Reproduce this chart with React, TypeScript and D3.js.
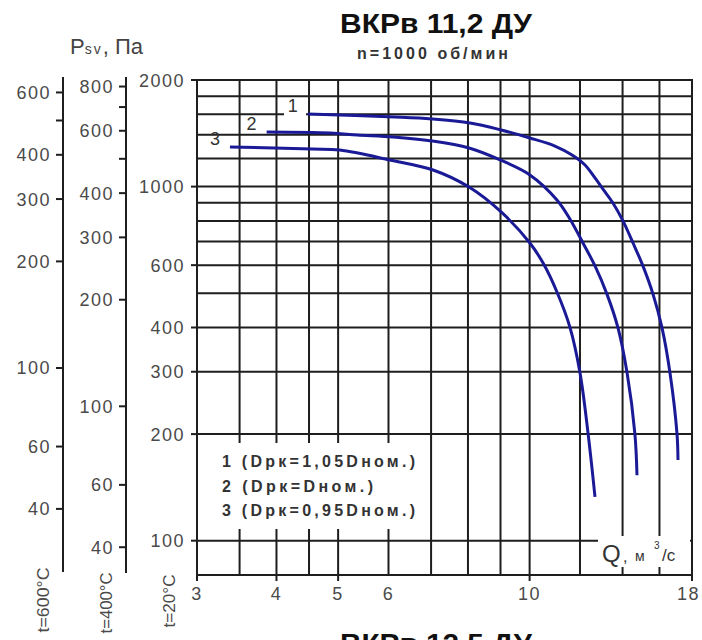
import React from "react";
import * as d3 from "d3";

// X axis (Q, m3/s) grid and tick labels
const xGrid = [3, 3.5, 4, 4.5, 5, 6, 7, 8, 9, 10, 12, 14, 16, 18];
const xTickLabels = [3, 4, 5, 6, 10, 18];
const xTickMarks = [3, 4, 5, 10, 18];

// Y axis (Psv, Pa at t=20°C) grid and ticks
const yGrid = [2000, 1800, 1600, 1400, 1200, 1000, 900, 800, 700, 600, 500, 400, 300, 200, 100];
const yMainTicks = [2000, 1000, 600, 400, 300, 200, 100];
const y400Ticks = [800, 600, 400, 300, 200, 100, 60, 40];
const y400Minor = [700, 500];
const y600Ticks = [600, 400, 300, 200, 100, 60, 40];
const y600Minor = [500];

// Curves
const q1 = [4.48, 6.14, 7.02, 8.06, 9.02, 10.01, 10.96, 11.66, 12.22, 12.67, 13.04, 13.52, 14.02, 14.54, 15.07, 15.63, 16.15, 16.62, 17.05, 17.11];
const p1 = [1603, 1572, 1552, 1512, 1445, 1372, 1302, 1228, 1151, 1058, 984, 899, 800, 693, 597, 497, 399, 298, 200, 169];
const q2 = [3.86, 4.86, 5.36, 6.1, 7.02, 8.03, 8.99, 10.01, 11.04, 11.57, 12.13, 12.67, 13.23, 13.77, 14.23, 14.64, 14.75];
const p2 = [1426, 1417, 1399, 1381, 1345, 1285, 1189, 1079, 917, 810, 693, 597, 497, 399, 298, 200, 153];
const q3 = [3.38, 4.55, 5.03, 6.03, 7.05, 8.03, 9.02, 10.01, 10.5, 11.04, 11.57, 12.0, 12.36, 12.67];
const p3 = [1294, 1277, 1268, 1189, 1114, 997, 848, 693, 608, 504, 401, 298, 200, 133];
const curveLabels = ["1", "2", "3"];

const legendLines = ["1 (Dрк=1,05Dном.)", "2 (Dрк=Dном.)", "3 (Dрк=0,95Dном.)"];

const FONT = "'Liberation Sans', Arial, sans-serif";
const GRID = "#1e1e1e";
const TXT = "#4a4a4a";

export default function App() {
  const x = d3.scaleLog().domain([3, 18]).range([197, 692]);
  const y = d3.scaleLog().domain([80, 2000]).range([575, 80]);
  const K400 = 2.396;
  const K600 = 3.074;
  const y400 = d3.scaleLog().domain([80 / K400, 2000 / K400]).range([575, 80]);
  const y600 = d3.scaleLog().domain([80 / K600, 2000 / K600]).range([575, 80]);

  const line = d3
    .line<[number, number]>()
    .x((d) => x(d[0]))
    .y((d) => y(d[1]))
    .curve(d3.curveCatmullRom.alpha(0.5));

  const series = [
    { q: q1, p: p1 },
    { q: q2, p: p2 },
    { q: q3, p: p3 },
  ];

  const x0 = x(3), x1 = x(18), yT = y(2000), yB = y(80);

  return (
    <svg
      width={702}
      height={640}
      style={{ position: "absolute", left: 0, top: 0, background: "#fff" }}
      fontFamily={FONT}
    >
      <rect x={0} y={0} width={702} height={640} fill="#fff" />

      {/* Title */}
      <text x={340} y={33} fontSize={28} fontWeight="bold" fill="#111" textLength={192} lengthAdjust="spacingAndGlyphs">
        ВКРв 11,2 ДУ
      </text>
      <text x={357} y={59} fontSize={16} fontWeight="bold" fill="#333" textLength={151} lengthAdjust="spacing">
        n=1000 об/мин
      </text>
      {/* Next chart title, cut off at the bottom edge as in the source */}
      <text x={340} y={653} fontSize={28} fontWeight="bold" fill="#111" textLength={192} lengthAdjust="spacingAndGlyphs">
        ВКРв 12,5 ДУ
      </text>

      {/* Pressure label */}
      <text x={70} y={54} fontSize={22} fill="#444">
        P<tspan fontSize={14} letterSpacing={2}>sv</tspan>, Па
      </text>

      {/* Grid */}
      {yGrid.map((v) => (
        <line key={"h" + v} x1={x0} x2={x1} y1={y(v)} y2={y(v)} stroke={GRID} strokeWidth={2} />
      ))}
      {xGrid.map((v) => (
        <line key={"v" + v} x1={x(v)} x2={x(v)} y1={yT} y2={yB} stroke={GRID} strokeWidth={2} />
      ))}

      {/* White label backgrounds */}
      <rect x={199} y={443} width={227} height={86} fill="#fff" />
      <rect x={598} y={536} width={92} height={31} fill="#fff" />
      <rect x={284} y={98} width={22} height={19} fill="#fff" />

      {/* Frame */}
      <rect x={x0} y={yT} width={x1 - x0} height={yB - yT} fill="none" stroke={GRID} strokeWidth={2} />

      {/* X tick marks and labels */}
      {xTickMarks.map((v) => (
        <line key={"xt" + v} x1={x(v)} x2={x(v)} y1={yB} y2={yB + 6} stroke={GRID} strokeWidth={2} />
      ))}
      {xTickLabels.map((v) => (
        <text
          key={"xl" + v}
          x={v === 18 ? x(v) + 8 : x(v)}
          y={600}
          fontSize={18}
          fill={TXT}
          letterSpacing={1.5}
          textAnchor={v === 18 ? "end" : "middle"}
        >
          {v}
        </text>
      ))}

      {/* Main Y axis (t=20°C) */}
      {yMainTicks.map((v) => (
        <g key={"ym" + v}>
          <line x1={x0 - 6} x2={x0} y1={y(v)} y2={y(v)} stroke={GRID} strokeWidth={2} />
          <text x={185} y={y(v) + 6.5} fontSize={18} fill={TXT} letterSpacing={1.5} textAnchor="end">
            {v}
          </text>
        </g>
      ))}

      {/* Axis t=400°C */}
      <line x1={126} x2={126} y1={77} y2={573} stroke={GRID} strokeWidth={2} />
      {y400Ticks.map((v) => (
        <g key={"y4" + v}>
          <line x1={119} x2={126} y1={y400(v)} y2={y400(v)} stroke={GRID} strokeWidth={2} />
          <text x={114} y={y400(v) + 6.5} fontSize={18} fill={TXT} letterSpacing={1.5} textAnchor="end">
            {v}
          </text>
        </g>
      ))}
      {y400Minor.map((v) => (
        <line key={"y4m" + v} x1={119} x2={126} y1={y400(v)} y2={y400(v)} stroke={GRID} strokeWidth={2} />
      ))}

      {/* Axis t=600°C */}
      <line x1={63} x2={63} y1={77} y2={572} stroke={GRID} strokeWidth={2} />
      {y600Ticks.map((v) => (
        <g key={"y6" + v}>
          <line x1={56} x2={63} y1={y600(v)} y2={y600(v)} stroke={GRID} strokeWidth={2} />
          <text x={51} y={y600(v) + 6.5} fontSize={18} fill={TXT} letterSpacing={1.5} textAnchor="end">
            {v}
          </text>
        </g>
      ))}
      {y600Minor.map((v) => (
        <line key={"y6m" + v} x1={56} x2={63} y1={y600(v)} y2={y600(v)} stroke={GRID} strokeWidth={2} />
      ))}

      {/* Temperature labels */}
      <text transform="translate(49,600) rotate(-90)" textAnchor="middle" fontSize={17} fill={TXT} textLength={65} lengthAdjust="spacingAndGlyphs">
        t=600°C
      </text>
      <text transform="translate(112,603) rotate(-90)" textAnchor="middle" fontSize={17} fill={TXT} textLength={61} lengthAdjust="spacingAndGlyphs">
        t=400°C
      </text>
      <text transform="translate(175,601) rotate(-90)" textAnchor="middle" fontSize={17} fill={TXT} textLength={53} lengthAdjust="spacingAndGlyphs">
        t=20°C
      </text>

      {/* Curves */}
      {series.map((s, i) => (
        <path
          key={"c" + i}
          d={line(s.q.map((q, j) => [q, s.p[j]] as [number, number])) || ""}
          fill="none"
          stroke="#1a1a96"
          strokeWidth={3}
          strokeLinejoin="round"
        />
      ))}
      {series.map((s, i) => (
        <text
          key={"cl" + i}
          x={x(s.q[0]) - 10}
          y={y(s.p[0]) - 2}
          fontSize={18}
          fill="#333"
          textAnchor="end"
        >
          {curveLabels[i]}
        </text>
      ))}

      {/* Legend */}
      {legendLines.map((t, i) => (
        <text
          key={"lg" + i}
          x={222}
          y={467 + i * 24.5}
          fontSize={16}
          fontWeight="bold"
          fill="#333"
          textLength={i === 1 ? 151 : 193}
          lengthAdjust="spacing"
        >
          {t}
        </text>
      ))}

      {/* Q label */}
      <text x={602} y={562} fontSize={24} fill="#333">Q</text>
      <text x={623} y={562} fontSize={16} fill="#333">,</text>
      <text x={635} y={561} fontSize={14} fill="#333">м</text>
      <text x={654} y={549} fontSize={10} fill="#333">3</text>
      <text x={662} y={561} fontSize={17} fill="#333">/с</text>
    </svg>
  );
}
